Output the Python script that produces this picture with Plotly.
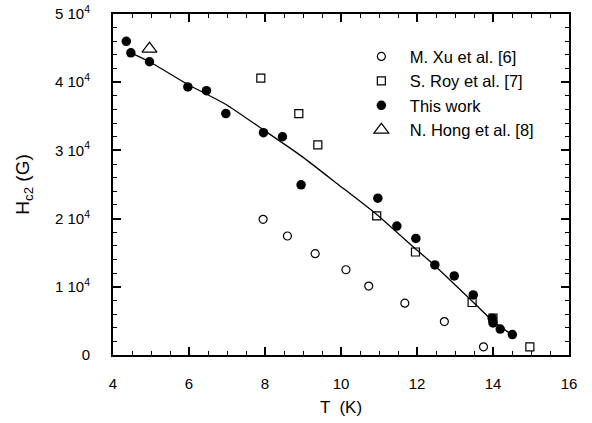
import plotly.graph_objects as go

# Data (T in K, Hc2 in G)
xu_T = [7.95, 8.59, 9.32, 10.13, 10.73, 11.68, 12.72, 13.75]
xu_H = [19900, 17450, 14850, 12500, 10100, 7600, 4900, 1200]

roy_T = [7.89, 8.89, 9.39, 10.94, 11.96, 13.45, 14.0, 14.97]
roy_H = [40600, 35400, 30800, 20400, 15100, 7700, 5400, 1200]

this_T = [4.35, 4.47, 4.96, 5.97, 6.46, 6.97, 7.96, 8.46, 8.95, 10.97,
          11.47, 11.97, 12.47, 12.98, 13.48, 13.98, 14.0, 14.19, 14.51]
this_H = [46000, 44300, 43000, 39300, 38750, 35400, 32600, 32000, 24950, 23000,
          18900, 17100, 13200, 11600, 8800, 5400, 4700, 3800, 3000]

hong_T = [4.96]
hong_H = [44900]

fit_T = [4.47, 4.96, 5.96, 6.95, 7.96, 8.95, 9.95, 10.94,
         11.95, 12.47, 13.47, 13.97, 14.49]
fit_H = [44300, 43000, 39700, 36800, 33000, 29200, 24900, 20600,
         15600, 13100, 7800, 5100, 3000]

x_tickvals = [4, 6, 8, 10, 12, 14, 16]
y_tickvals = [0, 10000, 20000, 30000, 40000, 50000]
y_ticktext = ["0", "1 10<sup>4</sup>", "2 10<sup>4</sup>", "3 10<sup>4</sup>",
              "4 10<sup>4</sup>", "5 10<sup>4</sup>"]

font_family = "Liberation Sans, Arial, Helvetica, sans-serif"

fig = go.Figure()

fig.add_trace(go.Scatter(x=fit_T, y=fit_H, mode="lines",
                         line=dict(color="black", width=1.3, shape="spline", smoothing=0.6),
                         showlegend=False, hoverinfo="skip"))
fig.add_trace(go.Scatter(x=xu_T, y=xu_H, mode="markers", name="M. Xu et al. [6]",
                         legendgroup="a",
                         marker=dict(symbol="circle-open", size=8, color="black",
                                     line=dict(width=1.2))))
fig.add_trace(go.Scatter(x=roy_T, y=roy_H, mode="markers", name="S. Roy et al. [7]",
                         legendgroup="b",
                         marker=dict(symbol="square-open", size=8, color="black",
                                     line=dict(width=1.2))))
fig.add_trace(go.Scatter(x=this_T, y=this_H, mode="markers", name="This work",
                         legendgroup="c",
                         marker=dict(symbol="circle", size=9.5, color="black")))
fig.add_trace(go.Scatter(x=hong_T, y=hong_H, mode="markers", name="N. Hong et al. [8]",
                         legendgroup="d",
                         marker=dict(symbol="triangle-up-open", size=13, color="black",
                                     line=dict(width=1.2))))

axis_common = dict(
    showline=True, linecolor="black", linewidth=2, mirror="ticks",
    ticks="inside", ticklen=8, tickwidth=1.5, tickcolor="black",
    showgrid=False, zeroline=False, automargin=False,
    tickfont=dict(family=font_family, size=15, color="black"),
)

fig.update_xaxes(range=[4, 16], tickvals=x_tickvals, ticklabelstandoff=14,
                 minor=dict(dtick=0.5, ticks="inside", ticklen=4, tickwidth=1.2,
                            tickcolor="black", showgrid=False),
                 title=dict(text="T  (K)", font=dict(family=font_family, size=17, color="black"),
                            standoff=10),
                 **axis_common)
fig.update_yaxes(range=[0, 50000], tickvals=y_tickvals, ticktext=y_ticktext,
                 ticklabelstandoff=18,
                 minor=dict(dtick=2000, ticks="inside", ticklen=4, tickwidth=1.2,
                            tickcolor="black", showgrid=False),
                 title=dict(text="H<sub>c2</sub> (G)", font=dict(family=font_family, size=19, color="black"),
                            standoff=20),
                 **axis_common)

fig.update_layout(
    width=592, height=423,
    margin=dict(l=113, r=23, t=14, b=68),
    plot_bgcolor="white", paper_bgcolor="white",
    font=dict(family=font_family, color="black"),
    legend=dict(x=0.526, y=0.926, xanchor="left", yanchor="top",
                bgcolor="rgba(0,0,0,0)", borderwidth=0,
                font=dict(family=font_family, size=16.5, color="black"),
                traceorder="grouped", tracegroupgap=0, itemwidth=47),
)

fig.write_html("out.html", config={"displayModeBar": False},
               post_script="document.body.style.margin='0';")
